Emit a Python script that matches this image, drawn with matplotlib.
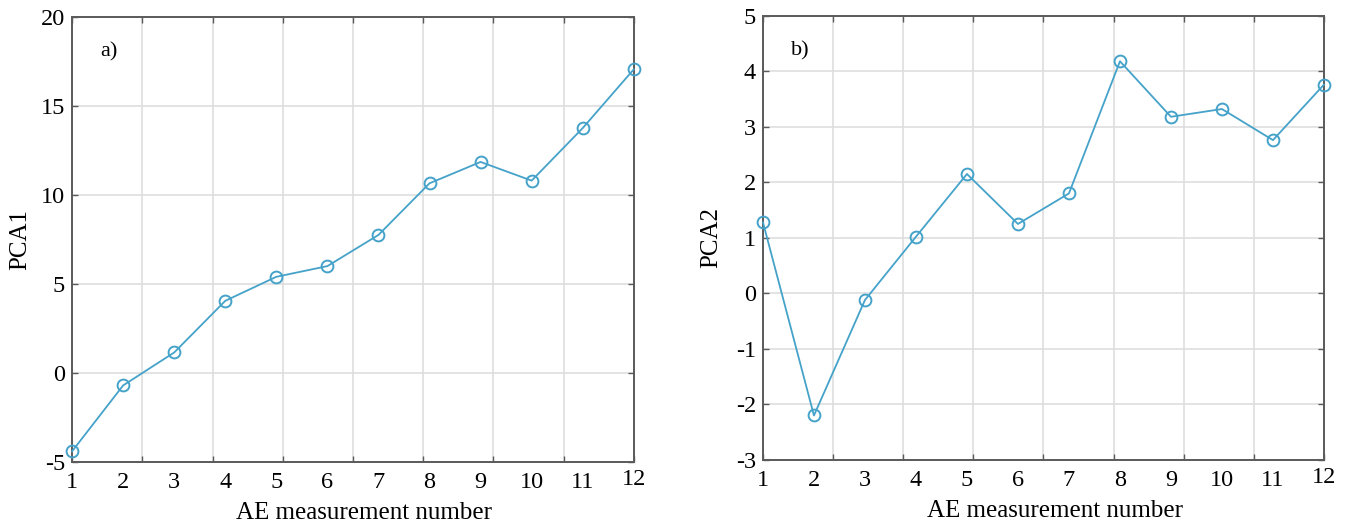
import numpy as np
import matplotlib
matplotlib.use("Agg")
import matplotlib.pyplot as plt

# AE measurement index and the two principal-component scores
measurement = np.arange(1, 13)
pca1 = [-4.4, -0.7, 1.15, 4.05, 5.4, 6.0, 7.75, 10.65, 11.85, 10.8, 13.75, 17.05]
pca2 = [1.28, -2.2, -0.12, 1.02, 2.15, 1.25, 1.8, 4.18, 3.18, 3.32, 2.76, 3.76]

pca1_ticks = [-5, 0, 5, 10, 15, 20]
pca2_ticks = [-3, -2, -1, 0, 1, 2, 3, 4, 5]

LINE = "#45a2c9"
SPINE = "#5a5a5a"
FONT = "Liberation Serif"

plt.rcParams["font.family"] = FONT


def draw_panel(ax, y, yticks, ylabel, tag):
    ax.plot(measurement, y, color=LINE, lw=1.3, marker="o", ms=8.5,
            mfc="none", mec=LINE, mew=1.4, zorder=3, clip_on=False)
    ax.set_xlim(1, 12)
    ax.set_ylim(yticks[0], yticks[-1])

    # grid has 8 even divisions; the measurement numbers are written separately
    ax.set_xticks(np.linspace(1, 12, 9))
    ax.set_xticklabels([])
    ax.set_yticks(yticks)
    ax.set_yticklabels([str(t) for t in yticks], fontsize=17.5)
    ax.grid(True, color="#dedede", lw=1.2)
    ax.tick_params(direction="in", length=4, width=1.0, color=SPINE,
                   top=True, right=True, pad=5)
    for s in ax.spines.values():
        s.set_color(SPINE)
        s.set_linewidth(1.4)

    for m in measurement:
        dy = -5 if m == 12 else -7
        ax.annotate(str(m), xy=(m, 0), xycoords=("data", "axes fraction"),
                    xytext=(0, dy), textcoords="offset points",
                    ha="center", va="top", fontsize=17.5)

    ax.set_xlabel("AE measurement number", fontsize=18)
    ax.xaxis.set_label_coords(0.52, -0.09)
    ax.set_ylabel(ylabel, fontsize=18)
    ax.yaxis.set_label_coords(-0.072, 0.5)
    ax.text(0.05, 0.921, tag, transform=ax.transAxes, fontsize=16,
            ha="left", va="center")


fig = plt.figure(figsize=(13.6, 5.25), dpi=100)
ax1 = fig.add_axes([0.053, 0.12, 0.413, 0.848])
ax2 = fig.add_axes([0.561, 0.124, 0.4125, 0.846])

draw_panel(ax1, pca1, pca1_ticks, "PCA1", "a)")
draw_panel(ax2, pca2, pca2_ticks, "PCA2", "b)")

fig.savefig("out.png", dpi=100)
